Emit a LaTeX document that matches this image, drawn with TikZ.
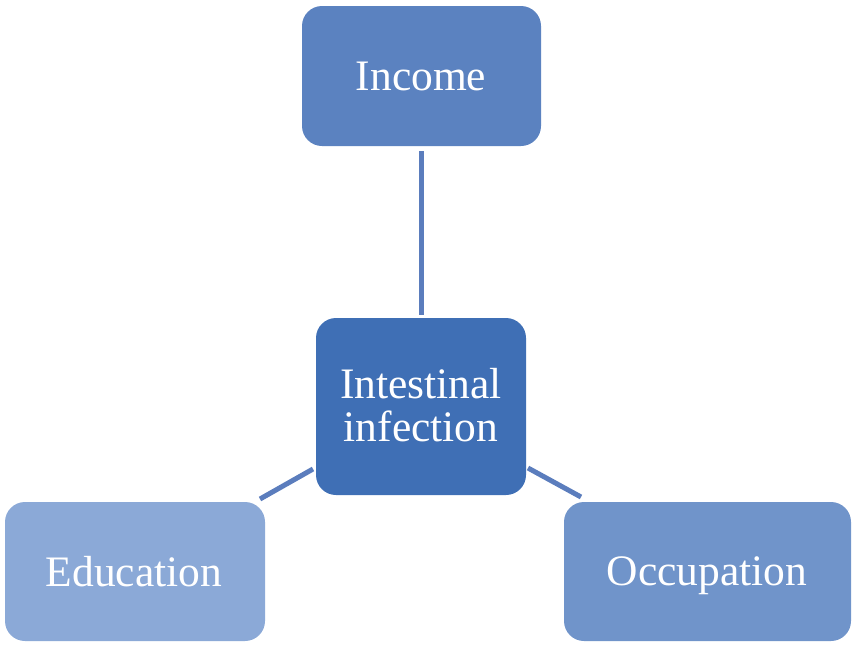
\documentclass[tikz,border=0pt]{standalone}
\usepackage{fontspec}
\setmainfont{Liberation Serif}
\definecolor{cinc}{HTML}{5B82C0}
\definecolor{ccen}{HTML}{3F6FB5}
\definecolor{cedu}{HTML}{8BA9D7}
\definecolor{cocc}{HTML}{7094CA}
\definecolor{clin}{HTML}{5B7DBD}
\begin{document}
\begin{tikzpicture}[x=1pt,y=-1pt,
  box/.style={rounded corners=20pt, text=white, align=center, inner sep=0pt,
    font=\fontsize{43.5}{43}\selectfont},
  link/.style={draw=clin, line width=5pt}]
\useasboundingbox (0,0) rectangle (858,646);
\path[box, fill=cinc] (302,6) rectangle (541,146);
\node[box, anchor=base] (inc) at (421,90) {Income};
\path[box, fill=ccen] (316,318) rectangle (526,495);
\node[box] (cen) at (421,405) {Intestinal\\infection};
\path[box, fill=cedu] (5,502) rectangle (265,641);
\node[box, anchor=base] (edu) at (134,586) {Education};
\path[box, fill=cocc] (564,502) rectangle (851,641);
\node[box, anchor=base] (occ) at (707,585) {Occupation};
\coordinate (a1) at (421,151);
\coordinate (a2) at (421,315);
\coordinate (b1) at (313,469);
\coordinate (b2) at (260,499);
\coordinate (c1) at (528,468);
\coordinate (c2) at (581,497);
\draw[link] (a1) -- (a2);
\draw[link] (b1) -- (b2);
\draw[link] (c1) -- (c2);
\end{tikzpicture}
\end{document}
